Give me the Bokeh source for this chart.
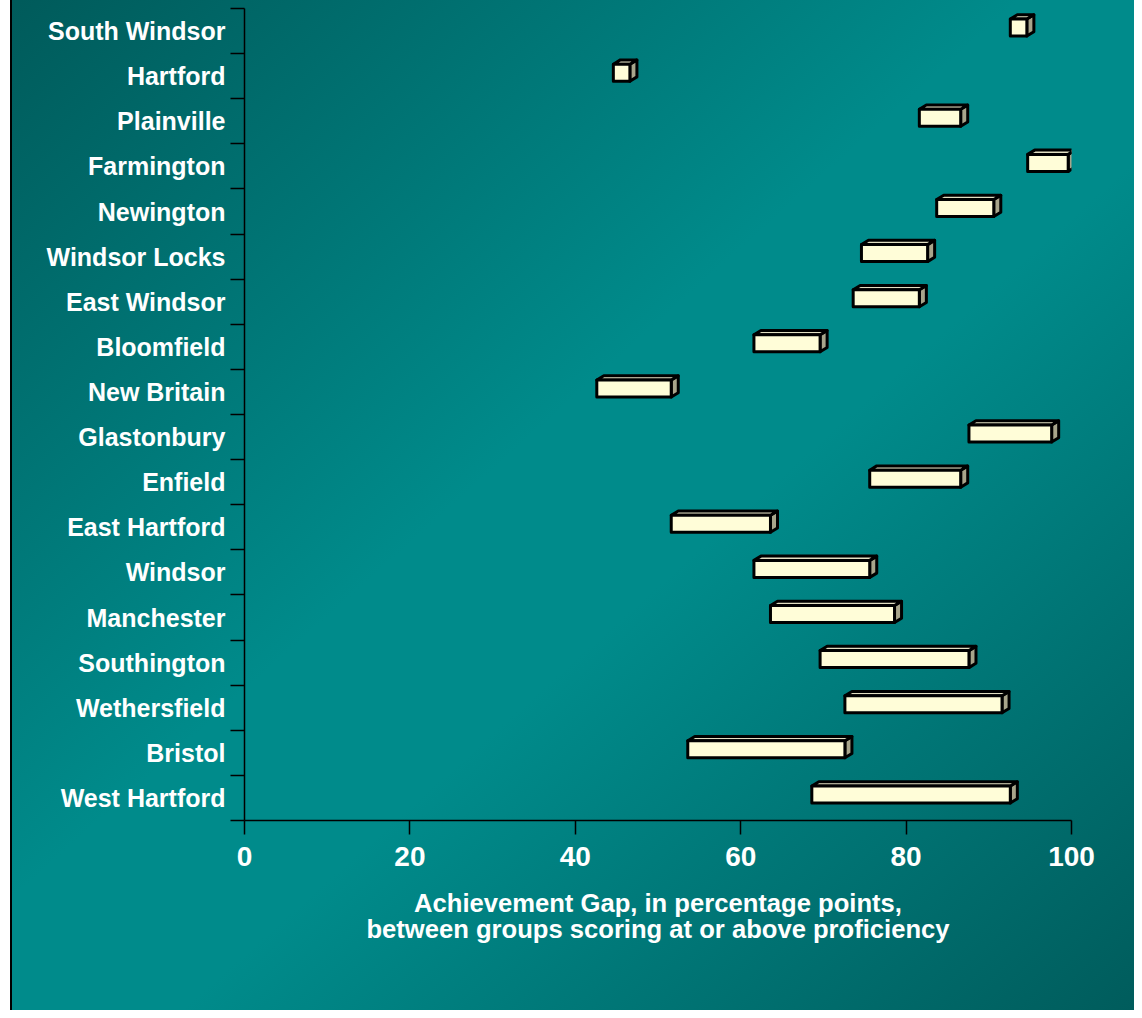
from bokeh.plotting import figure
from bokeh.models import Range1d, FixedTicker, ColumnDataSource
from bokeh.embed import file_html
from bokeh.resources import INLINE

towns = ["South Windsor", "Hartford", "Plainville", "Farmington", "Newington",
         "Windsor Locks", "East Windsor", "Bloomfield", "New Britain", "Glastonbury",
         "Enfield", "East Hartford", "Windsor", "Manchester", "Southington",
         "Wethersfield", "Bristol", "West Hartford"]
gap_low = [92.6, 44.6, 81.6, 94.7, 83.7, 74.6, 73.6, 61.6, 42.6, 87.6,
           75.6, 51.6, 61.6, 63.6, 69.6, 72.6, 53.6, 68.6]
gap_high = [94.6, 46.6, 86.6, 99.6, 90.6, 82.6, 81.6, 69.6, 51.6, 97.6,
            86.6, 63.6, 75.6, 78.6, 87.6, 91.6, 72.6, 92.6]
x_ticks = [0, 20, 40, 60, 80, 100]

n = len(towns)
centers = [n - i - 0.5 for i in range(n)]
boundaries = [float(i) for i in range(n + 1)]

# 3D box geometry (data units)
up, down = 0.266, 0.111
dx, dy = 0.85, 0.095

top = [c + up for c in centers]
bot = [c - down for c in centers]

front = ColumnDataSource(dict(left=gap_low, right=gap_high, top=top, bottom=bot))
top_xs = [[l, l + dx, r + dx, r] for l, r in zip(gap_low, gap_high)]
top_ys = [[t, t + dy, t + dy, t] for t in top]
side_xs = [[r, r + dx, r + dx, r] for r in gap_high]
side_ys = [[b, b + dy, t + dy, t] for b, t in zip(bot, top)]

p = figure(width=1134, height=1010, output_backend="svg", toolbar_location=None,
           x_range=Range1d(0, 100), y_range=Range1d(0, n),
           min_border_left=244, min_border_right=63, min_border_top=8,
           min_border_bottom=190)
p.background_fill_color = None
p.border_fill_color = None
p.outline_line_color = None
p.grid.visible = False
p.styles = {
    "background": "linear-gradient(to bottom right, #005a5a 0%, #008b8b 45%, #008b8b 58%, #005c5c 100%)",
    "box-shadow": "inset 10px 0 0 #ffffff, inset 12px 0 0 #000000",
}

p.patches(side_xs, side_ys, fill_color="#A8A58B", line_color="black", line_width=3,
          line_join="round")
p.patches(top_xs, top_ys, fill_color="#E2DFC2", line_color="black", line_width=3,
          line_join="round")
p.quad(left="left", right="right", top="top", bottom="bottom", source=front,
       fill_color="#FFFDD8", line_color="black", line_width=3, line_join="round")

FONT = "Liberation Sans"

xa = p.xaxis[0]
xa.ticker = FixedTicker(ticks=x_ticks)
xa.major_tick_in = 0
xa.major_tick_out = 14
xa.minor_tick_out = 0
xa.minor_tick_in = 0
xa.axis_line_color = "black"
xa.axis_line_width = 1.5
xa.major_tick_line_width = 1.5
xa.major_label_text_font = FONT
xa.major_label_text_font_style = "bold"
xa.major_label_text_font_size = "28px"
xa.major_label_text_color = "white"
xa.major_label_standoff = 12
xa.axis_label = "Achievement Gap, in percentage points,\nbetween groups scoring at or above proficiency"
xa.axis_label_text_font = FONT
xa.axis_label_text_font_style = "bold"
xa.axis_label_text_font_size = "25.6px"
xa.axis_label_text_color = "white"
xa.axis_label_standoff = 20
xa.axis_label_text_line_height = 0.93

ya = p.yaxis[0]
ya.ticker = FixedTicker(ticks=centers, minor_ticks=boundaries)
ya.major_label_overrides = {c: t for c, t in zip(centers, towns)}
ya.major_tick_in = 0
ya.major_tick_out = 0
ya.minor_tick_in = 0
ya.minor_tick_out = 14
ya.minor_tick_line_color = "black"
ya.minor_tick_line_width = 1.5
ya.axis_line_color = "black"
ya.axis_line_width = 1.5
ya.major_label_text_font = FONT
ya.major_label_text_font_style = "bold"
ya.major_label_text_font_size = "25px"
ya.major_label_text_color = "white"
ya.major_label_standoff = 5

open("out.html", "w").write(file_html(p, INLINE))
